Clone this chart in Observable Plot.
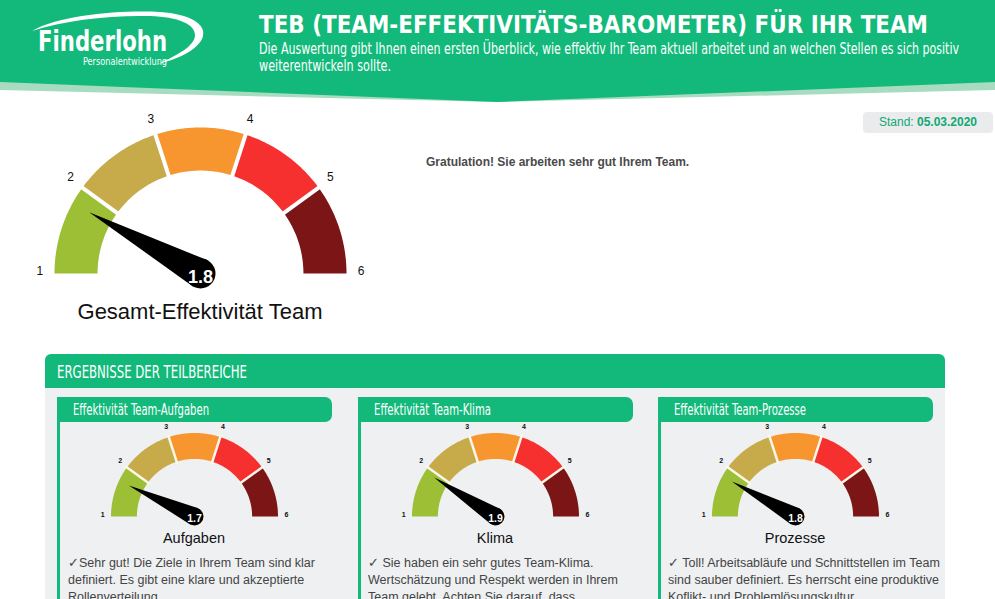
<!DOCTYPE html>
<html><head><meta charset="utf-8">
<script src="https://cdn.jsdelivr.net/npm/d3@7"></script>
<script src="https://cdn.jsdelivr.net/npm/@observablehq/plot@0.6"></script>
<style>
html,body{margin:0;padding:0;background:#fff;}
#page{position:relative;width:995px;height:599px;overflow:hidden;font-family:"Liberation Sans",Arial,sans-serif;}
.abs{position:absolute;}
.green{background:#12b97b;}
.cond{font-family:"Liberation Sans Narrow","DejaVu Sans Condensed","Roboto",sans-serif;}
.cap{position:absolute;text-align:center;color:#111;}
.txt{position:absolute;font-size:12.5px;line-height:17px;color:#444;white-space:nowrap;}
</style></head><body><div id="page">
<svg class="abs" style="left:0;top:0" width="995" height="112">
  <path d="M0,0H995V90Q750,96 497,102Q245,96 0,90Z" fill="#a8dcc0"/>
  <path d="M0,0H995V82Q750,92 497,102Q245,92 0,82Z" fill="#12b97b"/>
  <path d="M32,31 C60,15 120,10 160,12 C190,14 206,24 203,36 C200,48 182,58 158,64 C178,55 194,46 195,36 C196,24 178,17 150,16 C110,15 65,20 32,31 Z" fill="#fff"/>
  <text class="cond" x="38" y="51" font-size="29" font-weight="bold" fill="#fff" textLength="129" lengthAdjust="spacingAndGlyphs">Finderlohn</text>
  <text class="cond" x="83" y="65" font-size="11" fill="#fff" textLength="84" lengthAdjust="spacingAndGlyphs">Personalentwicklung</text>
  <text class="cond" x="259" y="33" font-size="25" font-weight="bold" fill="#fff" textLength="669" lengthAdjust="spacingAndGlyphs">TEB (TEAM-EFFEKTIVITÄTS-BAROMETER) FÜR IHR TEAM</text>
  <text class="cond" x="259" y="54" font-size="16" fill="#fff" textLength="700" lengthAdjust="spacingAndGlyphs">Die Auswertung gibt Ihnen einen ersten Überblick, wie effektiv Ihr Team aktuell arbeitet und an welchen Stellen es sich positiv</text>
  <text class="cond" x="259" y="71" font-size="16" fill="#fff" textLength="132" lengthAdjust="spacingAndGlyphs">weiterentwickeln sollte.</text>
</svg>

<div class="abs" style="left:863px;top:112px;width:130px;height:21px;background:#e9ebed;border-radius:4px;text-align:center;font-size:12px;line-height:21px;color:#13a872;">Stand: <b>05.03.2020</b></div>
<div class="abs" style="left:426px;top:155px;font-size:12px;line-height:15px;font-weight:bold;color:#4a4a4a;">Gratulation! Sie arbeiten sehr gut Ihrem Team.</div>

<div id="bigGauge" class="abs" style="left:0;top:100px;"></div>
<div id="bigCap" class="cap" style="left:0;top:299px;width:400px;font-size:22px;line-height:26px;"></div>

<div class="abs green" style="left:45px;top:354px;width:900px;height:34px;border-radius:6px 6px 0 0;"></div>
<svg class="abs" style="left:45px;top:354px" width="900" height="34">
  <text class="cond" x="12" y="24" font-size="17" fill="#fff" textLength="190" lengthAdjust="spacingAndGlyphs">ERGEBNISSE DER TEILBEREICHE</text>
</svg>
<div class="abs" style="left:45px;top:388px;width:900px;height:240px;background:#eef0f2;"></div>
<div id="cards"></div>
</div>
<script>
// ---- data ----
const overallValue = 1.8;
const overallLabel = "Gesamt-Effektivität Team";
const scaleTicks = [1, 2, 3, 4, 5, 6];
const bandColors = ["#9cbf36", "#c7aa4a", "#f7952f", "#f6302f", "#7c1516"];
const areaHeaders = ["Effektivität Team-Aufgaben", "Effektivität Team-Klima", "Effektivität Team-Prozesse"];
const areaNames = ["Aufgaben", "Klima", "Prozesse"];
const areaValues = [1.7, 1.9, 1.8];
const areaTexts = [
  ["✓Sehr gut! Die Ziele in Ihrem Team sind klar", "definiert. Es gibt eine klare und akzeptierte", "Rollenverteilung."],
  ["✓ Sie haben ein sehr gutes Team-Klima.", "Wertschätzung und Respekt werden in Ihrem", "Team gelebt. Achten Sie darauf, dass"],
  ["✓ Toll! Arbeitsabläufe und Schnittstellen im Team", "sind sauber definiert. Es herrscht eine produktive", "Koflikt- und Problemlösungskultur."]
];
const headerWidths = [136, 117, 132];

function gauge(value, o) {
  const lo = scaleTicks[0], hi = scaleTicks[scaleTicks.length - 1];
  const ang = v => Math.PI * (1 - (v - lo) / (hi - lo));
  const bands = d3.pairs(scaleTicks).map(([a, b], i) => {
    const pts = [], n = 48;
    for (let k = 0; k <= n; k++) { const t = ang(a + (b - a) * k / n); pts.push({x: Math.cos(t), y: Math.sin(t)}); }
    for (let k = n; k >= 0; k--) { const t = ang(a + (b - a) * k / n); pts.push({x: o.inner * Math.cos(t), y: o.inner * Math.sin(t)}); }
    return {pts, color: bandColors[i]};
  });
  const a = ang(value), w = o.hubR / o.Rpx, L = 0.87;
  const needle = [
    {x: L * Math.cos(a), y: L * Math.sin(a)},
    {x: w * Math.cos(a + Math.PI / 2), y: w * Math.sin(a + Math.PI / 2)},
    {x: w * Math.cos(a - Math.PI / 2), y: w * Math.sin(a - Math.PI / 2)}
  ];
  return Plot.plot({
    width: o.width, height: o.height, margin: 0,
    x: {domain: [-(o.width / 2) / o.Rpx, (o.width / 2) / o.Rpx], axis: null},
    y: {domain: [-(o.height - o.cy) / o.Rpx, o.cy / o.Rpx], axis: null},
    style: {background: "transparent", fontFamily: "'Liberation Sans', Arial, sans-serif", overflow: "visible"},
    marks: [
      ...bands.map(b => Plot.line(b.pts, {x: "x", y: "y", fill: b.color, stroke: "none"})),
      Plot.link(scaleTicks.slice(1, -1), {
        x1: v => (o.inner - 0.03) * Math.cos(ang(v)), y1: v => (o.inner - 0.03) * Math.sin(ang(v)),
        x2: v => 1.03 * Math.cos(ang(v)), y2: v => 1.03 * Math.sin(ang(v)),
        stroke: o.sepColor, strokeWidth: o.sepW
      }),
      Plot.text(scaleTicks, {
        x: v => o.labelR * Math.cos(ang(v)), y: v => o.labelR * Math.sin(ang(v)),
        text: d => String(d), fontSize: o.tickFont, fontWeight: o.tickWeight, fill: "#111", dy: -2
      }),
      Plot.line(needle, {x: "x", y: "y", fill: "black", stroke: "none"}),
      Plot.dot([value], {x: () => 0, y: () => 0, r: o.hubR, fill: "black", stroke: "none"}),
      Plot.text([value], {x: () => 0, y: () => 0, dy: o.valueDy, text: d => d3.format(".1f")(d),
        fill: "white", fontWeight: "bold", fontSize: o.valueFont})
    ]
  });
}

document.getElementById("bigGauge").appendChild(gauge(overallValue, {
  Rpx: 146, inner: 0.705, width: 400, height: 195, cy: 173, hubR: 15, valueFont: 18, valueDy: 3.5,
  tickFont: 12, tickWeight: "normal", labelR: 1.1, sepW: 4, sepColor: "#fff"
}));
document.getElementById("bigCap").textContent = overallLabel;

const cardLefts = [57, 358, 658];
const cards = document.getElementById("cards");
areaNames.forEach((name, i) => {
  const left = cardLefts[i];
  const hdr = document.createElement("div");
  hdr.className = "abs green";
  hdr.style.cssText = `left:${left}px;top:397px;width:275px;height:25px;border-radius:0 7px 7px 0;`;
  cards.appendChild(hdr);
  const hs = document.createElementNS("http://www.w3.org/2000/svg", "svg");
  hs.setAttribute("class", "abs"); hs.setAttribute("width", 275); hs.setAttribute("height", 25);
  hs.style.left = left + "px"; hs.style.top = "397px";
  hs.innerHTML = `<text class="cond" x="16" y="18" font-size="15" fill="#fff" textLength="${headerWidths[i]}" lengthAdjust="spacingAndGlyphs">${areaHeaders[i]}</text>`;
  cards.appendChild(hs);
  const border = document.createElement("div");
  border.className = "abs green";
  border.style.cssText = `left:${left}px;top:420px;width:3px;height:200px;`;
  cards.appendChild(border);
  const g = document.createElement("div");
  g.className = "abs"; g.style.left = left + "px"; g.style.top = "424px";
  g.appendChild(gauge(areaValues[i], {
    Rpx: 83.5, inner: 0.69, width: 274, height: 105, cy: 92, hubR: 9, valueFont: 10.5, valueDy: 2,
    tickFont: 7, tickWeight: "bold", labelR: 1.1, sepW: 2.5, sepColor: "#fbf8ea"
  }));
  cards.appendChild(g);
  const cap = document.createElement("div");
  cap.className = "cap";
  cap.style.cssText = `left:${left}px;top:529px;width:274px;font-size:14.5px;line-height:18px;`;
  cap.textContent = name;
  cards.appendChild(cap);
  const t = document.createElement("div");
  t.className = "txt";
  t.style.left = (left + (i === 0 ? 11 : 10)) + "px"; t.style.top = "555px";
  t.innerHTML = areaTexts[i].join("<br>");
  cards.appendChild(t);
});
</script>
</body></html>
